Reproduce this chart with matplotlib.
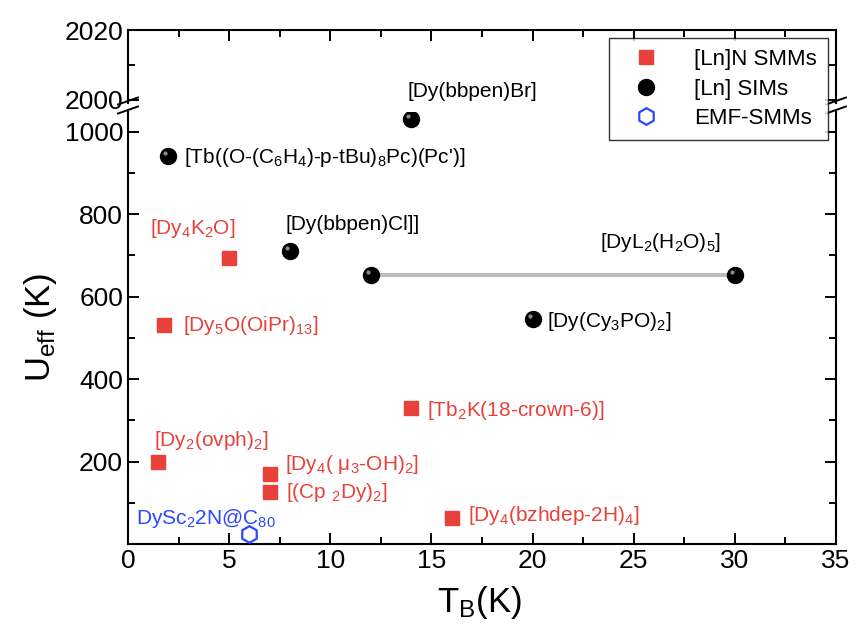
import matplotlib
matplotlib.use("Agg")
import matplotlib.pyplot as plt
from matplotlib.lines import Line2D
from matplotlib.ticker import MultipleLocator, FuncFormatter
import matplotlib.transforms as mtrans

plt.rcParams['font.family'] = ['Liberation Sans', 'DejaVu Sans']
plt.rcParams['mathtext.fontset'] = 'custom'
plt.rcParams['mathtext.rm'] = 'Liberation Sans'
plt.rcParams['mathtext.it'] = 'Liberation Sans:italic'
plt.rcParams['mathtext.default'] = 'regular'

# [Ln]N SMMs (red squares)
smm_tb = [5, 1.8, 1.5, 7, 7, 14, 16]
smm_u = [694, 531, 199, 170, 126, 330, 63]
smm_names = ['[Dy$_4$K$_2$O]', '[Dy$_5$O(OiPr)$_{13}$]', '[Dy$_2$(ovph)$_2$]',
             '[Dy$_4$( μ$_3$-OH)$_2$]', '[(Cp $_2$Dy)$_2$]',
             '[Tb$_2$K(18-crown-6)]', '[Dy$_4$(bzhdep-2H)$_4$]']

# [Ln] SIMs (black spheres)
sim_tb = [2, 14, 8, 20]
sim_u = [942, 1032, 711, 546]
sim_names = ["[Tb((O-(C$_6$H$_4$)-p-tBu)$_8$Pc)(Pc')]", '[Dy(bbpen)Br]',
             '[Dy(bbpen)Cl]]', '[Dy(Cy$_3$PO)$_2$]']

# DyL2(H2O)5 range of blocking temperatures
range_tb = [12, 30]
range_u = [653, 653]
range_name = '[DyL$_2$(H$_2$O)$_5$]'

# EMF-SMMs (blue hexagon)
emf_tb = [6]
emf_u = [24]
emf_names = ['DySc$_2$2N@C$_{80}$']

# label anchor offsets (layout only)
smm_off = [(-3.9, 71), (0.9, -2), (-0.2, 53), (0.75, 22), (0.8, 0), (0.8, -5), (0.8, 5)]
sim_off = [(0.75, -5), (-0.2, 65), (-0.2, 63), (0.7, -7)]
range_off = (11.35, 78)
emf_off = [(-5.6, 39)]

red = '#e8413a'
blue = '#2b47ff'

fig = plt.figure(figsize=(8.56, 6.28), dpi=100)
left, width = 0.1495, 0.8271
ax = fig.add_axes([left, 0.1338, width, 0.6879])
axt = fig.add_axes([left, 0.836, width, 0.1162], sharex=ax)
axt.patch.set_visible(False)

# sphere look: black ball + small grey highlight up-left
hl = mtrans.offset_copy(ax.transData, fig=fig, x=-3, y=3, units='dots')

ax.plot(range_tb, range_u, color='#bdbdbd', lw=3, zorder=1)
ax.plot(smm_tb, smm_u, 's', color=red, ms=9.5, ls='none', zorder=3)
allx = sim_tb + range_tb
ally = sim_u + range_u
ax.plot(allx, ally, 'o', color='black', ms=11.5, ls='none', zorder=3)
ax.plot(allx, ally, 'o', color='#8a8a8a', ms=3, mew=0, ls='none', zorder=4, transform=hl)
ax.plot(emf_tb, emf_u, 'h', mfc='none', mec=blue, mew=1.6, ms=12, ls='none', zorder=3)

fs = 15
for x, y, name, (dx, dy) in zip(smm_tb, smm_u, smm_names, smm_off):
    ax.text(x + dx, y + dy, name, color=red, fontsize=fs, ha='left', va='center')
for x, y, name, (dx, dy) in zip(sim_tb, sim_u, sim_names, sim_off):
    ax.text(x + dx, y + dy, name, color='black', fontsize=fs, ha='left', va='center')
ax.text(range_tb[0] + range_off[0], range_u[0] + range_off[1], range_name,
        color='black', fontsize=fs, ha='left', va='center')
for x, y, name, (dx, dy) in zip(emf_tb, emf_u, emf_names, emf_off):
    ax.text(x + dx, y + dy, name, color=blue, fontsize=fs, ha='left', va='center')

ax.set_xlim(0, 35)
ax.set_ylim(0, 1048)
axt.set_ylim(1999, 2020)

for a in (ax, axt):
    for s in a.spines.values():
        s.set_linewidth(1.5)
    a.tick_params(which='both', direction='in', top=True, right=True,
                  labelsize=19, width=1.4)
    a.tick_params(which='major', length=8)
    a.tick_params(which='minor', length=5)
    a.xaxis.set_major_locator(MultipleLocator(5))
    a.xaxis.set_minor_locator(MultipleLocator(2.5))

ax.spines['top'].set_visible(False)
axt.spines['bottom'].set_visible(False)
ax.tick_params(top=False, which='both')
axt.tick_params(bottom=False, labelbottom=False, which='both')

ax.yaxis.set_major_locator(MultipleLocator(200))
ax.yaxis.set_minor_locator(MultipleLocator(100))
ax.yaxis.set_major_formatter(FuncFormatter(lambda v, p: '' if v == 0 else '%d' % v))
axt.yaxis.set_major_locator(MultipleLocator(20))
axt.yaxis.set_minor_locator(MultipleLocator(10))

# break marks
for xs in (left, left + width):
    for yp in (101, 110):
        y0 = 1 - (yp + 3.5) / 628
        y1 = 1 - (yp - 3.5) / 628
        fig.add_artist(Line2D([xs - 10 / 856, xs + 10 / 856], [y0, y1],
                              color='black', lw=1.4, transform=fig.transFigure))

fig.text(0.56, 0.04, 'T$_B$(K)', fontsize=25, ha='center', va='center')
fig.text(0.047, 0.478, 'U$_{eff}$ (K)', fontsize=25, rotation=90, ha='center', va='center')

sq = Line2D([], [], marker='s', color=red, ms=9.5, ls='none')
ball = Line2D([], [], marker='o', color='black', ms=11.5, ls='none')
hex_h = Line2D([], [], marker='h', mfc='none', mec=blue, mew=1.6, ms=12, ls='none')
leg = fig.legend([sq, ball, hex_h], ['[Ln]N SMMs', '[Ln] SIMs', 'EMF-SMMs'],
                 loc='upper right', bbox_to_anchor=(0.967, 0.9395),
                 borderaxespad=0, fontsize=16, frameon=True, fancybox=False,
                 edgecolor='black', handletextpad=1.0, borderpad=0.5,
                 labelspacing=0.38, handlelength=2.3)
leg.get_frame().set_linewidth(1.0)

fig.savefig('out.png', dpi=100)
